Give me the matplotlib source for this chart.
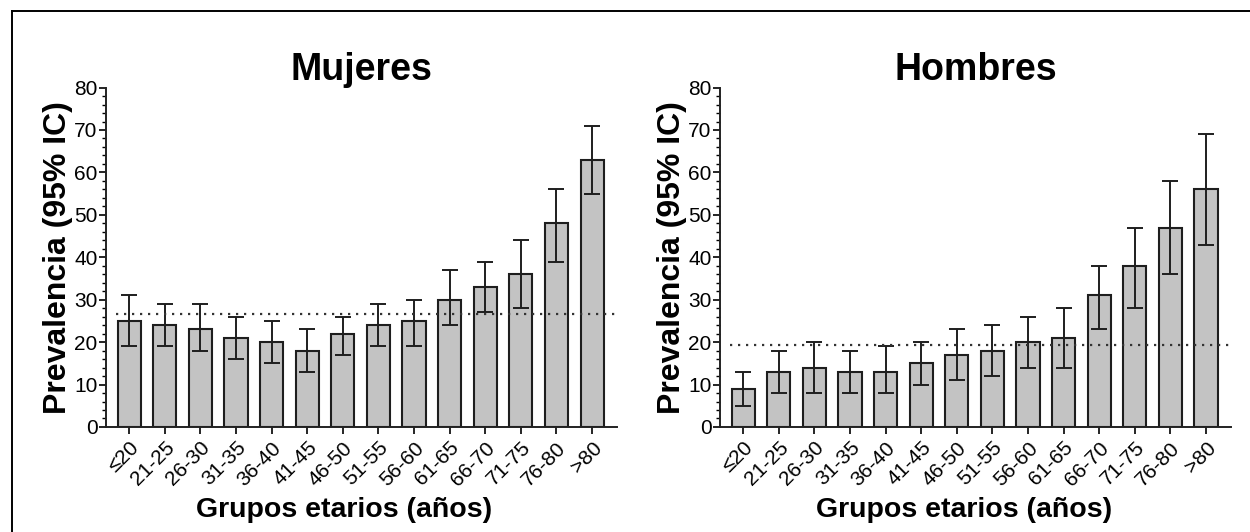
import numpy as np
import matplotlib.pyplot as plt
from matplotlib.lines import Line2D
from matplotlib.ticker import MultipleLocator

plt.rcParams['font.family'] = ['Liberation Sans', 'DejaVu Sans']

# age groups
groups = ["≤20", "21-25", "26-30", "31-35", "36-40", "41-45", "46-50",
          "51-55", "56-60", "61-65", "66-70", "71-75", "76-80", ">80"]

# women
mujeres = [25, 24, 23, 21, 20, 18, 22, 24, 25, 30, 33, 36, 48, 63]
mujeres_low = [19, 19, 18, 16, 15, 13, 17, 19, 19, 24, 27, 28, 39, 55]
mujeres_high = [31, 29, 29, 26, 25, 23, 26, 29, 30, 37, 39, 44, 56, 71]
mujeres_ref = 26.7

# men
hombres = [9, 13, 14, 13, 13, 15, 17, 18, 20, 21, 31, 38, 47, 56]
hombres_low = [5, 8, 8, 8, 8, 10, 11, 12, 14, 14, 23, 28, 36, 43]
hombres_high = [13, 18, 20, 18, 19, 20, 23, 24, 26, 28, 38, 47, 58, 69]
hombres_ref = 19.4

fig = plt.figure(figsize=(12.5, 5.32), dpi=100)

# frame (top and left lines only)
fig.add_artist(Line2D([0.0092, 0.0092], [0, 0.979], color="black", lw=1.4))
fig.add_artist(Line2D([0.0092, 1], [0.979, 0.979], color="black", lw=1.4))

ax1 = fig.add_axes([0.0848, 0.1974, 0.4088, 0.638])
ax2 = fig.add_axes([0.576, 0.1974, 0.4088, 0.638])

panels = [
    (ax1, "Mujeres", mujeres, mujeres_low, mujeres_high, mujeres_ref, 0.465),
    (ax2, "Hombres", hombres, hombres_low, hombres_high, hombres_ref, 0.477),
]

for ax, title, vals, low, high, ref, xlab_x in panels:
    x = np.arange(len(groups))
    vals = np.array(vals)
    err = [vals - np.array(low), np.array(high) - vals]

    ax.bar(x, vals, width=0.65, color="#c3c3c3",
           edgecolor="#1e1e1e", linewidth=1.5, zorder=2)
    ax.errorbar(x, vals, yerr=err, fmt="none", ecolor="#1e1e1e",
                elinewidth=1.4, capsize=6, capthick=1.4, zorder=3)

    ax.axhline(ref, xmin=0.02, xmax=1, color="#333333", lw=1.6,
               linestyle=(0, (1, 2.6)), zorder=4)

    ax.set_xlim(-0.65, 13.7)
    ax.set_ylim(0, 80)
    ax.yaxis.set_major_locator(MultipleLocator(10))
    ax.yaxis.set_minor_locator(MultipleLocator(2))

    ax.set_xticks(x)
    ax.set_xticklabels(groups, rotation=45, ha="right",
                       rotation_mode="anchor", fontsize=15)

    for s in ["top", "right"]:
        ax.spines[s].set_visible(False)
    for s in ["left", "bottom"]:
        ax.spines[s].set_linewidth(1.4)
        ax.spines[s].set_color("#222222")

    ax.tick_params(axis="y", which="major", length=5, width=1.2,
                   labelsize=15, pad=1)
    ax.tick_params(axis="y", which="minor", length=3, width=1.0)
    ax.tick_params(axis="x", length=5, width=1.2, pad=3)

    ax.set_title(title, fontsize=27, fontweight="bold", pad=5)
    ax.set_ylabel("Prevalencia (95% IC)", fontsize=23, fontweight="bold")
    ax.yaxis.set_label_coords(-0.064, 0.5)
    ax.set_xlabel("Grupos etarios (años)", fontsize=20.5, fontweight="bold")
    ax.xaxis.set_label_coords(xlab_x, -0.205)

plt.savefig("out.png", dpi=100)
